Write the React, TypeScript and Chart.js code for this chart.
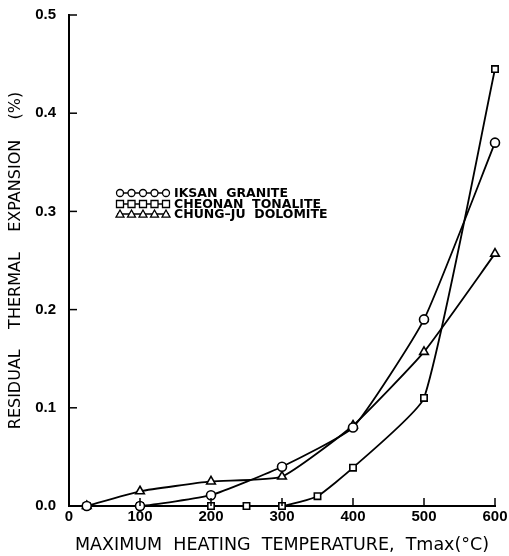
import React, { useEffect, useRef } from "react";
import { Chart, registerables } from "chart.js";

Chart.register(...registerables);

const graniteTemps = [25, 100, 200, 300, 400, 500, 600];
const graniteValues = [0, 0, 0.011, 0.04, 0.08, 0.19, 0.37];
const tonaliteTemps = [25, 100, 200, 250, 300, 350, 400, 500, 600];
const tonaliteValues = [0, 0, 0, 0, 0, 0.01, 0.039, 0.11, 0.445];
const dolomiteTemps = [25, 100, 200, 300, 400, 500, 600];
const dolomiteValues = [0, 0.015, 0.025, 0.03, 0.082, 0.157, 0.257];
const seriesNames = ["IKSAN  GRANITE", "CHEONAN  TONALITE", "CHUNG–JU  DOLOMITE"];
const xTicks = [0, 100, 200, 300, 400, 500, 600];
const yTicks = [0, 0.1, 0.2, 0.3, 0.4, 0.5];

const FONT = "'Liberation Sans', Arial, sans-serif";
const TFONT = "'DejaVu Sans', sans-serif";

function drawMarker(ctx: CanvasRenderingContext2D, style: string, x: number, y: number, r: number) {
  ctx.beginPath();
  if (style === "circle") {
    ctx.arc(x, y, r, 0, Math.PI * 2);
  } else if (style === "rect") {
    ctx.rect(x - r, y - r, 2 * r, 2 * r);
  } else {
    ctx.moveTo(x, y - r);
    ctx.lineTo(x + r, y + r * 0.8);
    ctx.lineTo(x - r, y + r * 0.8);
    ctx.closePath();
  }
  ctx.fillStyle = "#fff";
  ctx.fill();
  ctx.stroke();
}

const tickPlugin = {
  id: "inwardTicks",
  afterDatasetsDraw(chart: any) {
    const ctx = chart.ctx;
    const xs = chart.scales.x;
    const ys = chart.scales.y;
    const area = chart.chartArea;
    ctx.save();
    ctx.strokeStyle = "#000";
    ctx.lineWidth = 1.5;
    xTicks.forEach((v) => {
      const px = xs.getPixelForValue(v);
      ctx.beginPath();
      ctx.moveTo(px, area.bottom);
      ctx.lineTo(px, area.bottom - 8);
      ctx.stroke();
    });
    yTicks.forEach((v) => {
      const py = ys.getPixelForValue(v);
      ctx.beginPath();
      ctx.moveTo(area.left, py);
      ctx.lineTo(area.left + 8, py);
      ctx.stroke();
    });
    // legend
    const styles = ["circle", "rect", "triangle"];
    const rows = [193, 204, 214];
    ctx.font = `bold 12.5px ${TFONT}`;
    ctx.textBaseline = "middle";
    styles.forEach((s, i) => {
      const y = rows[i];
      ctx.lineWidth = 1.3;
      ctx.beginPath();
      ctx.moveTo(117, y);
      ctx.lineTo(169, y);
      ctx.stroke();
      for (let k = 0; k < 5; k++) {
        drawMarker(ctx, s, 120 + k * 11.5, y, s === "triangle" ? 4 : 3.5);
      }
      ctx.fillStyle = "#000";
      ctx.fillText(seriesNames[i], 174, y + 1);
    });
    ctx.restore();
  },
};

export default function App() {
  const ref = useRef<HTMLCanvasElement>(null);
  useEffect(() => {
    document.body.style.margin = "0";
    const toPts = (xs: number[], ys: number[]) => xs.map((x, i) => ({ x, y: ys[i] }));
    const common = {
      borderColor: "#000",
      borderWidth: 1.8,
      pointBackgroundColor: "#fff",
      pointBorderColor: "#000",
      pointBorderWidth: 1.6,
      tension: 0.15,
      fill: false,
      clip: false as any,
    };
    const chart = new Chart(ref.current!, {
      type: "line",
      data: {
        datasets: [
          { ...common, label: seriesNames[0], data: toPts(graniteTemps, graniteValues), pointStyle: "circle", pointRadius: 4.5 },
          { ...common, label: seriesNames[1], data: toPts(tonaliteTemps, tonaliteValues), pointStyle: "rect", pointRadius: 4.5 },
          { ...common, label: seriesNames[2], data: toPts(dolomiteTemps, dolomiteValues), pointStyle: "triangle", pointRadius: 5 },
        ],
      },
      options: {
        animation: false,
        responsive: false,
        layout: { padding: { top: 15, right: 14, left: 0, bottom: 0 } },
        plugins: { legend: { display: false }, tooltip: { enabled: false } },
        scales: {
          x: {
            type: "linear",
            min: 0,
            max: 600,
            afterFit: (s: any) => { s.height = 50; s.paddingLeft = 0; s.paddingRight = 0; },
            afterBuildTicks: (s: any) => { s.ticks = xTicks.map((v) => ({ value: v })); },
            grid: { display: true, drawOnChartArea: false, drawTicks: false },
            border: { display: true, color: "#000", width: 2 },
            ticks: { padding: 2, color: "#000", font: { family: FONT, size: 15, weight: "bold" } },
            title: { display: true, text: "MAXIMUM  HEATING  TEMPERATURE,  Tmax(°C)", color: "#000", padding: { top: 8, bottom: 0 }, font: { family: TFONT, size: 17.5 } },
          },
          y: {
            type: "linear",
            min: 0,
            max: 0.5,
            afterFit: (s: any) => { s.width = 69; s.paddingTop = 0; s.paddingBottom = 0; },
            afterBuildTicks: (s: any) => { s.ticks = yTicks.map((v) => ({ value: v })); },
            grid: { display: true, drawOnChartArea: false, drawTicks: false },
            border: { display: true, color: "#000", width: 2 },
            ticks: { padding: 13, color: "#000", font: { family: FONT, size: 15, weight: "bold" }, callback: (v: any) => Number(v).toFixed(1) },
            title: { display: true, text: "RESIDUAL    THERMAL    EXPANSION    (%)", color: "#000", padding: { top: 6, bottom: 4 }, font: { family: TFONT, size: 16 } },
          },
        },
      },
      plugins: [tickPlugin],
    });
    return () => chart.destroy();
  }, []);
  return <canvas ref={ref} width={509} height={556} style={{ display: "block" }} />;
}
